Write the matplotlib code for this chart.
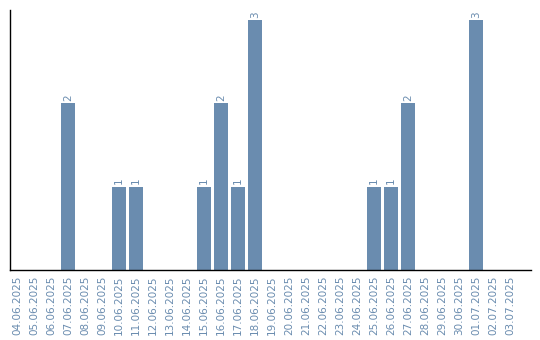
import matplotlib
matplotlib.use("Agg")
import matplotlib.pyplot as plt

dates = ["04.06.2025", "05.06.2025", "06.06.2025", "07.06.2025", "08.06.2025",
         "09.06.2025", "10.06.2025", "11.06.2025", "12.06.2025", "13.06.2025",
         "14.06.2025", "15.06.2025", "16.06.2025", "17.06.2025", "18.06.2025",
         "19.06.2025", "20.06.2025", "21.06.2025", "22.06.2025", "23.06.2025",
         "24.06.2025", "25.06.2025", "26.06.2025", "27.06.2025", "28.06.2025",
         "29.06.2025", "30.06.2025", "01.07.2025", "02.07.2025", "03.07.2025"]
counts = [0, 0, 0, 2, 0, 0, 1, 1, 0, 0,
          0, 1, 2, 1, 3, 0, 0, 0, 0, 0,
          0, 1, 1, 2, 0, 0, 0, 3, 0, 0]

bar_color = "#6a8caf"
text_color = "#6a8caf"

fig = plt.figure(figsize=(5.4, 3.4), dpi=100)
ax = fig.add_axes([10/540, 70/340, 521/540, 260/340])

x = list(range(len(dates)))
bars = ax.bar(x, counts, width=0.82, color=bar_color)
for xi, c in zip(x, counts):
    if c > 0:
        ax.text(xi, c + 0.03, str(c), rotation=90, ha="center", va="bottom",
                fontsize=7.5, color=text_color)

ax.set_xlim(-0.41, 30.24)
ax.set_ylim(0, 3.12)
ax.set_xticks(x)
ax.set_xticklabels(dates, rotation=90, fontsize=7.5, color=text_color)
ax.tick_params(axis="x", length=0, pad=4)
ax.set_yticks([])
ax.spines["top"].set_visible(False)
ax.spines["right"].set_visible(False)
ax.spines["left"].set_linewidth(1.0)
ax.spines["bottom"].set_linewidth(1.0)

fig.savefig("out.png", dpi=100)
